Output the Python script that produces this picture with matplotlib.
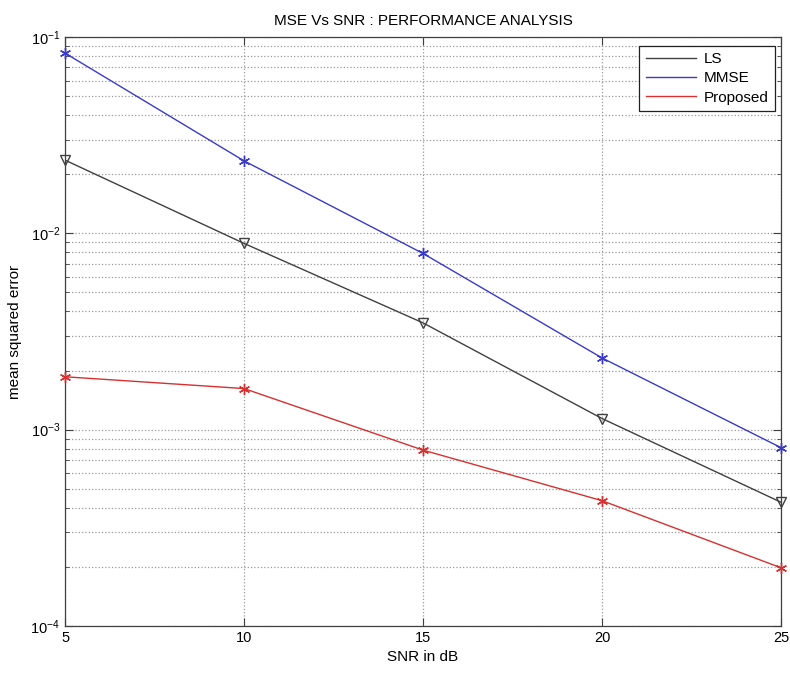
import numpy as np
import matplotlib.pyplot as plt
from matplotlib.ticker import LogLocator, NullFormatter

# Values
snr_db = [5, 10, 15, 20, 25]
mse_ls = [0.0236, 0.00889, 0.00350, 0.00114, 0.000427]
mse_mmse = [0.0828, 0.0234, 0.00790, 0.00232, 0.000810]
mse_proposed = [0.00186, 0.00162, 0.000787, 0.000435, 0.000198]

# name, values, colour, marker, marker face
SERIES = [
    ('LS', mse_ls, '#404040', 'v', 'none'),
    ('MMSE', mse_mmse, '#3a3ac8', (6, 2, 0), '#3a3ac8'),
    ('Proposed', mse_proposed, '#d83030', (6, 2, 0), '#d83030'),
]


def main():
    plt.rcParams['font.family'] = ['Liberation Sans', 'DejaVu Sans']
    plt.rcParams['mathtext.fontset'] = 'custom'
    plt.rcParams['mathtext.rm'] = 'Liberation Sans'

    fig = plt.figure(figsize=(7.9, 6.73), dpi=100)
    ax = fig.add_axes([0.0823, 0.0698, 0.9063, 0.8752])

    for name, vals, color, marker, face in SERIES:
        ax.plot(snr_db, vals, color=color, lw=1.0, label=name)
        # markers drawn on top, not clipped at the axes edge (like matlab)
        ax.plot(snr_db, vals, color=color, lw=0, marker=marker,
                markersize=8 if marker != 'v' else 7,
                markerfacecolor=face, markeredgecolor=color,
                markeredgewidth=1.0, clip_on=False, zorder=5)

    ax.set_yscale('log')
    ax.set_xlim(5, 25)
    ax.set_ylim(1e-4, 1e-1)
    ax.set_xticks([5, 10, 15, 20, 25])
    ax.yaxis.set_major_locator(LogLocator(base=10, numticks=10))
    ax.yaxis.set_minor_locator(LogLocator(base=10, subs=np.arange(2, 10), numticks=20))
    ax.yaxis.set_minor_formatter(NullFormatter())

    ax.grid(True, which='major', axis='both', linestyle=':', color='#9a9a9a', lw=0.9)
    ax.grid(True, which='minor', axis='y', linestyle=':', color='#9a9a9a', lw=0.9)
    ax.tick_params(which='both', direction='in', top=True, right=True,
                   labelsize=10.5, color='#404040')
    ax.tick_params(which='major', length=6)
    ax.tick_params(which='minor', length=3)
    for sp in ax.spines.values():
        sp.set_color('#404040')
        sp.set_linewidth(0.9)

    ax.set_title('MSE Vs SNR : PERFORMANCE ANALYSIS', fontsize=11, pad=9)
    ax.set_xlabel('SNR in dB', fontsize=11, labelpad=4)
    ax.set_ylabel('mean squared error', fontsize=11, labelpad=6)

    leg = ax.legend(loc='upper right', bbox_to_anchor=(0.991, 0.985),
                    borderaxespad=0, fancybox=False, fontsize=11,
                    handlelength=3.3, handletextpad=0.5, labelspacing=0.35,
                    borderpad=0.4, framealpha=1)
    leg.get_frame().set_edgecolor('#202020')
    leg.get_frame().set_linewidth(0.9)

    fig.savefig('out.png', dpi=100)


if __name__ == "__main__":
    main()
